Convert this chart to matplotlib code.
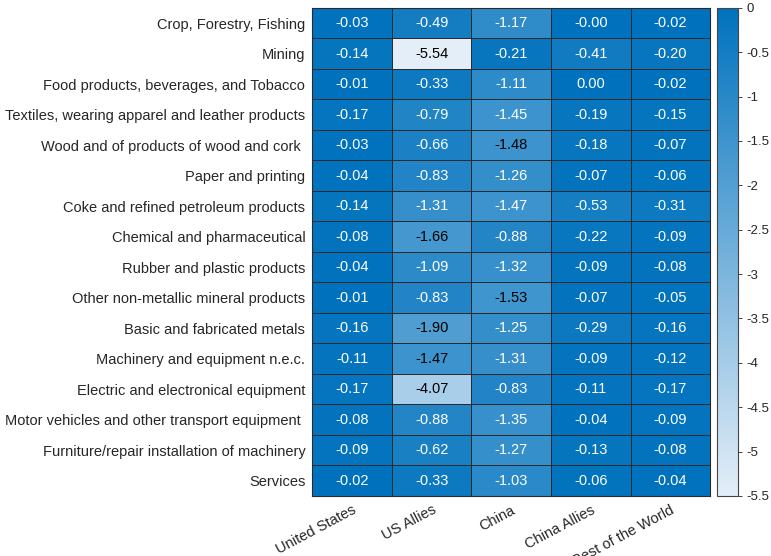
import matplotlib
matplotlib.use('Agg')
import matplotlib.pyplot as plt
import numpy as np
from matplotlib.colors import LinearSegmentedColormap

sectors = ['Crop, Forestry, Fishing',
           'Mining',
           'Food products, beverages, and Tobacco',
           'Textiles, wearing apparel and leather products',
           'Wood and of products of wood and cork ',
           'Paper and printing',
           'Coke and refined petroleum products',
           'Chemical and pharmaceutical',
           'Rubber and plastic products',
           'Other non-metallic mineral products',
           'Basic and fabricated metals',
           'Machinery and equipment n.e.c.',
           'Electric and electronical equipment',
           'Motor vehicles and other transport equipment ',
           'Furniture/repair installation of machinery',
           'Services']

regions = ['United States', 'US Allies', 'China', 'China Allies', 'Rest of the World']

# one list per region (column)
united_states = [-0.03, -0.14, -0.01, -0.17, -0.03, -0.04, -0.14, -0.08,
                 -0.04, -0.01, -0.16, -0.11, -0.17, -0.08, -0.09, -0.02]
us_allies = [-0.49, -5.54, -0.33, -0.79, -0.66, -0.83, -1.31, -1.66,
             -1.09, -0.83, -1.90, -1.474, -4.07, -0.88, -0.62, -0.33]
china = [-1.17, -0.21, -1.11, -1.45, -1.48, -1.26, -1.466, -0.88,
         -1.32, -1.53, -1.25, -1.31, -0.83, -1.35, -1.27, -1.03]
china_allies = [-0.001, -0.41, 0.00, -0.19, -0.18, -0.07, -0.53, -0.22,
                -0.09, -0.07, -0.29, -0.09, -0.11, -0.04, -0.13, -0.06]
rest_of_world = [-0.02, -0.20, -0.02, -0.15, -0.07, -0.06, -0.31, -0.09,
                 -0.08, -0.05, -0.16, -0.12, -0.17, -0.09, -0.08, -0.04]

cbar_ticks = [0, -0.5, -1, -1.5, -2, -2.5, -3, -3.5, -4, -4.5, -5, -5.5]

data = np.column_stack([united_states, us_allies, china, china_allies, rest_of_world])

# matlab-ish blue heatmap colours (light at the low end)
cmap = LinearSegmentedColormap.from_list('mblue', ['#E4EEF8', '#0072BD'])
vmin, vmax = -5.5, 0

plt.rcParams['font.family'] = ['Liberation Sans', 'DejaVu Sans']
txt = '#262626'

fig = plt.figure(figsize=(7.71, 5.56), dpi=100)
ax = fig.add_axes([0.405, 0.108, 0.516, 0.878])
cax = fig.add_axes([0.930, 0.108, 0.027, 0.878])

nrow, ncol = data.shape
mesh = ax.pcolormesh(data, cmap=cmap, vmin=vmin, vmax=vmax,
                     edgecolors='#2b2b2b', linewidth=0.5)
ax.set_xlim(0, ncol)
ax.set_ylim(nrow, 0)

for i in range(nrow):
    for j in range(ncol):
        v = data[i, j]
        color = 'black' if v < -1.47 else 'white'
        ax.text(j + 0.5, i + 0.5, '%.2f' % v, ha='center', va='center',
                fontsize=10.5, color=color)

ax.set_xticks(np.arange(ncol) + 0.5)
ax.set_xticklabels(regions, rotation=28, ha='right', rotation_mode='anchor',
                   fontsize=10.5, color=txt)
ax.set_yticks(np.arange(nrow) + 0.5)
ax.set_yticklabels(sectors, fontsize=10.5, color=txt)
ax.tick_params(length=0, pad=5)
for s in ax.spines.values():
    s.set_color('#2b2b2b')
    s.set_linewidth(0.8)

cb = fig.colorbar(mesh, cax=cax)
cb.set_ticks(cbar_ticks)
cb.set_ticklabels(['%g' % t for t in cbar_ticks])
cb.ax.tick_params(labelsize=9.5, colors=txt, length=3, width=0.6)
cb.outline.set_edgecolor('#444444')
cb.outline.set_linewidth(0.8)

fig.savefig('out.png', dpi=100)
